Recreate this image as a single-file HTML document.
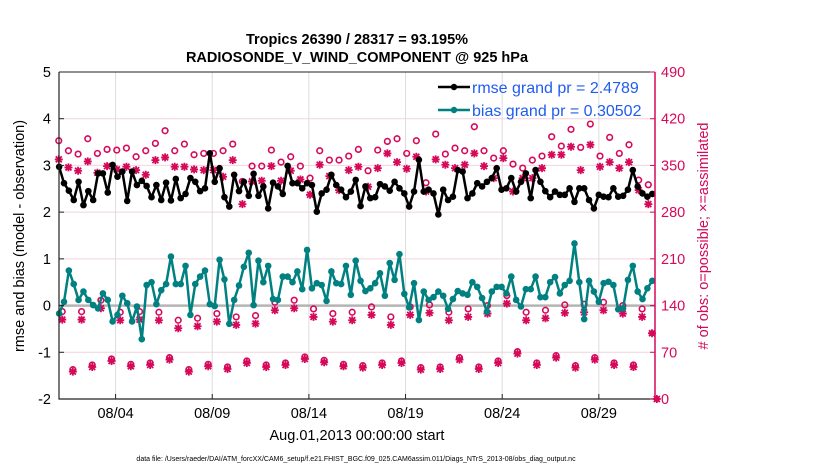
<!DOCTYPE html>
<html><head><meta charset="utf-8"><style>
body{margin:0;background:#fff;}
svg{display:block;font-family:"Liberation Sans",Arial,sans-serif;}
</style></head><body>
<svg id="chart" width="830" height="470" viewBox="0 0 830 470" xmlns="http://www.w3.org/2000/svg">
<rect width="830" height="470" fill="#fff"/>
<text x="357" y="44" text-anchor="middle" font-size="14.5" font-weight="bold">Tropics 26390 / 28317 = 93.195%</text>
<text x="357" y="62" text-anchor="middle" font-size="14.5" font-weight="bold">RADIOSONDE_V_WIND_COMPONENT @ 925 hPa</text>
<g id="grid"></g>
<g id="marks"></g>
<g id="axes"></g>
<g>
<line x1="438" y1="87" x2="470" y2="87" stroke="#000" stroke-width="2.5"/>
<circle cx="454" cy="87" r="3.2" fill="#000"/>
<text x="472" y="93" font-size="16" fill="#1f5cf0">rmse grand pr = 2.4789</text>
<line x1="438" y1="110" x2="470" y2="110" stroke="#008080" stroke-width="2.5"/>
<circle cx="454" cy="110" r="3.2" fill="#008080"/>
<text x="472" y="116" font-size="16" fill="#1f5cf0">bias grand pr = 0.30502</text>
</g>
<text transform="translate(24,236) rotate(-90)" text-anchor="middle" font-size="14.5">rmse and bias (model - observation)</text>
<text transform="translate(708,236) rotate(-90)" text-anchor="middle" font-size="14.5" fill="#d6085a"># of obs: o=possible; ×=assimilated</text>
<text x="357" y="440" text-anchor="middle" font-size="14.5">Aug.01,2013 00:00:00 start</text>
<text x="356" y="461" text-anchor="middle" font-size="7">data file: /Users/raeder/DAI/ATM_forcXX/CAM6_setup/f.e21.FHIST_BGC.f09_025.CAM6assim.011/Diags_NTrS_2013-08/obs_diag_output.nc</text>
</svg>
<script>
const rmse=[2.97,2.62,2.46,2.26,2.65,2.15,2.45,2.26,2.83,2.83,2.42,3.01,2.76,2.87,2.24,2.87,2.58,2.67,2.56,2.32,2.58,2.26,2.63,2.25,2.71,2.30,2.39,2.73,2.65,2.45,2.51,3.26,
2.65,2.94,2.32,2.12,2.80,2.45,2.65,2.35,2.82,2.35,2.55,2.08,2.63,2.55,2.39,2.99,2.62,2.62,2.51,2.62,2.58,2.01,2.40,2.48,2.80,2.58,2.48,2.32,2.44,2.69,2.13,
2.55,2.30,2.32,2.60,2.55,2.46,2.65,2.51,2.40,2.12,2.44,3.12,2.44,2.48,2.40,1.95,2.48,2.26,2.33,2.90,2.87,2.30,2.40,2.62,2.55,2.65,2.73,2.94,2.48,2.51,
2.73,2.44,2.65,2.83,2.30,2.90,2.65,2.45,2.32,2.44,2.37,2.37,2.51,2.22,2.51,2.51,2.26,2.08,2.37,2.33,2.32,2.51,2.33,2.35,2.48,2.90,2.55,2.40,2.33,2.39];
const bias=[-0.17,0.08,0.75,0.46,0.12,0.30,0.12,0.01,-0.06,0.26,0.12,-0.34,-0.20,0.21,0.05,-0.34,-0.02,-0.72,0.44,0.50,0.03,0.33,0.46,1.05,0.46,0.46,0.85,-0.20,0.46,0.62,0.75,0.03,
-0.01,0.98,0.56,-0.39,0.12,0.43,0.83,1.13,0.01,0.96,0.50,0.85,0.14,0.12,0.62,0.62,0.50,0.73,0.35,1.19,0.37,0.48,0.44,0.10,0.73,0.48,0.46,0.85,0.23,0.96,0.53,
0.31,0.37,0.48,0.69,0.21,0.91,0.55,1.10,0.25,-0.04,0.48,-0.31,0.30,0.12,0.18,0.30,0.21,-0.07,0.14,0.31,0.26,0.23,0.50,0.40,0.16,-0.13,0.30,0.40,0.40,0.26,
0.62,0.12,-0.02,0.35,0.35,0.62,0.18,0.18,0.50,0.61,0.26,0.44,0.53,1.33,0.50,-0.29,0.53,0.30,0.08,0.48,0.51,0.44,-0.08,-0.06,0.55,0.85,0.30,0.14,0.37,0.53];
const upPossible=[387,372,367,390,368,374,373,376,363,372,383,402,372,382,366,368,
368,372,382,326,349,349,373,355,363,349,331,372,358,358,364,374,
342,373,386,390,368,387,324,397,367,376,372,408,372,361,372,
352,346,358,364,393,379,404,377,412,364,392,368,381,328,321];
const upAssim=[359,347,342,356,339,349,344,348,343,336,358,362,348,348,344,343,
343,333,358,292,326,327,349,327,342,329,306,351,334,313,343,348,
318,346,368,355,345,363,311,359,351,346,351,368,349,331,361,
311,331,331,346,366,366,378,343,381,348,355,346,355,313,292];
const lowA=[119,119,136,118,119,118,106,109,116,111,113,133,136,123,116,118,126,111,126,129,118,123,128,143,118,121,129,130,133,128,123];
const lowB=[41,48,57,49,51,59,41,49,45,54,48,51,60,55,49,47,51,54,44,45,59,45,54,68,51,62,47,59,51,48];
const extraDays=[30.75,31.0];
const extraVals=[98.5,0];
const dateTicks=["08/04","08/09","08/14","08/19","08/24","08/29"];
const dateTickDays=[3,8,13,18,23,28];
const leftTicks=[-2,-1,0,1,2,3,4,5];
const rightTicks=[0,70,140,210,280,350,420,490];

const L=59,R=655,T=72,B=399;
const xS=d=>57.6+d*19.33;
const yL=v=>B-(v+2)/7*(B-T);
const yR=v=>B-v/490*(B-T);
const NS="http://www.w3.org/2000/svg";
function mk(tag,attrs,parent){const e=document.createElementNS(NS,tag);for(const k in attrs)e.setAttribute(k,attrs[k]);parent.appendChild(e);return e;}
const gridG=document.getElementById('grid'),marksG=document.getElementById('marks'),axesG=document.getElementById('axes');
const PINK="#d6085a";
rightTicks.forEach(v=>{const l=mk('line',{x1:L,x2:R,y1:yR(v),y2:yR(v),stroke:'#f3d2de','stroke-width':1},gridG);

});
dateTickDays.forEach(d=>{const l=mk('line',{x1:xS(d),x2:xS(d),y1:T,y2:B,stroke:'#dcdcdc','stroke-width':1},gridG);

});
const zeroLine=mk('line',{x1:L,x2:R,y1:yL(0),y2:yL(0),stroke:'#b4b4b4','stroke-width':2.5},gridG);


function circ(x,y,name){const c=mk('circle',{cx:x,cy:y,r:2.8,fill:'none',stroke:PINK,'stroke-width':1.6},marksG);

}
function star(x,y,name){const g=mk('path',{d:`M${x-4},${y}H${x+4}M${x},${y-4}V${y+4}M${x-3},${y-3}L${x+3},${y+3}M${x-3},${y+3}L${x+3},${y-3}`,stroke:PINK,'stroke-width':1.8,fill:'none'},marksG);

}
upPossible.forEach((v,i)=>circ(xS(0.06+0.5*i),yR(v),'obs-possible'));
upAssim.forEach((v,i)=>star(xS(0.06+0.5*i),yR(v),'obs-assimilated'));
lowA.forEach((v,i)=>{circ(xS(0.24+i),yR(v+12),'obs-possible');star(xS(0.24+i),yR(v),'obs-assimilated');});
lowB.forEach((v,i)=>{circ(xS(0.79+i),yR(v+3),'obs-possible');star(xS(0.79+i),yR(v),'obs-assimilated');});
extraDays.forEach((d,i)=>{star(xS(d),yR(extraVals[i]),'obs-assimilated');const c=mk('circle',{cx:xS(d),cy:yR(extraVals[i]),r:3,fill:PINK},marksG);

});
function series(vals,color,name){const pts=vals.map((v,i)=>[xS(0.08+0.2515*i),yL(v)]);
const p=mk('polyline',{points:pts.map(q=>q.join(',')).join(' '),fill:'none',stroke:color,'stroke-width':2.5,'stroke-linejoin':'round'},marksG);


pts.forEach(q=>{const c=mk('circle',{cx:q[0],cy:q[1],r:3.3,fill:color},marksG);

});}
series(bias,'#008080','bias');
series(rmse,'#000','rmse');
const axPath=mk('path',{d:`M${L},${T}V${B}H${R}`,stroke:'#222','stroke-width':1.2,fill:'none'},axesG);


const topBorder=mk('line',{x1:L,x2:R,y1:T,y2:T,stroke:'#222','stroke-width':1},axesG);


const rightAxis=mk('line',{x1:R,x2:R,y1:T,y2:B,stroke:PINK,'stroke-width':1.5},axesG);


leftTicks.forEach(v=>{mk('line',{x1:L,x2:L+5,y1:yL(v),y2:yL(v),stroke:'#222'},axesG);
const t=mk('text',{x:L-8,y:yL(v)+5,'text-anchor':'end','font-size':14.5},axesG);t.textContent=v;

});
rightTicks.forEach(v=>{mk('line',{x1:R-5,x2:R,y1:yR(v),y2:yR(v),stroke:PINK},axesG);
const t=mk('text',{x:R+6,y:yR(v)+5,'font-size':14.5,fill:PINK},axesG);t.textContent=v;

});
dateTicks.forEach((s,i)=>{const x=xS(dateTickDays[i]);mk('line',{x1:x,x2:x,y1:B,y2:B-5,stroke:'#222'},axesG);
const t=mk('text',{x:x,y:B+19,'text-anchor':'middle','font-size':14.5},axesG);t.textContent=s;

});
</script>
</body></html>
